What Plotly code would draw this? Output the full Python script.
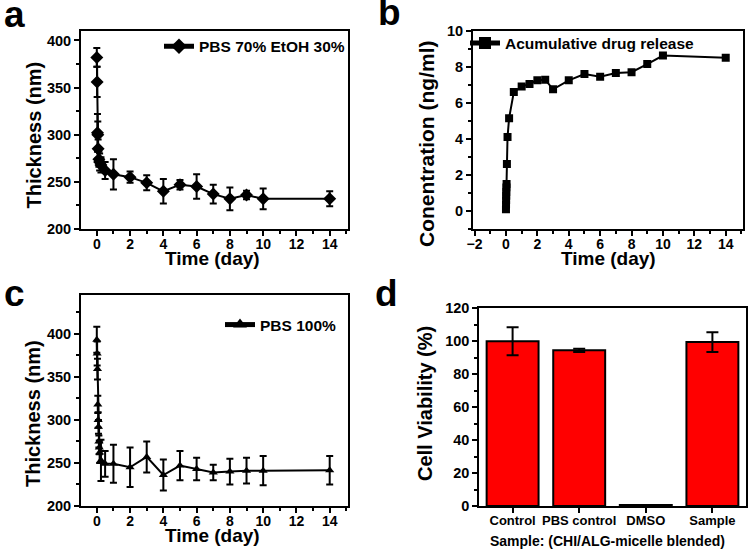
import plotly.graph_objects as go

# ---------------- data ----------------
# panel a: PBS 70% EtOH 30%
time_a = [0, 0.02, 0.04, 0.06, 0.08, 0.125, 0.17, 0.25, 0.5, 1, 2, 3, 4, 5, 6, 7, 8, 9, 10, 14]
thick_a = [382, 356, 302, 300, 285, 274, 271, 268, 262, 258, 255, 249, 240, 247, 245, 237, 232, 236, 232, 232]
err_a = [10, 16, 20, 14, 10, 8, 9, 8, 9, 16, 6, 8, 13, 5, 13, 10, 12, 4.5, 11, 8]

# panel b: Acumulative drug release
time_b = [0, 0.005, 0.01, 0.015, 0.02, 0.03, 0.04, 0.06, 0.1, 0.2, 0.5, 1, 1.5, 2, 2.5, 3, 4, 5, 6, 7, 8, 9, 10, 14]
conc_b = [0.1, 0.35, 0.6, 0.85, 1.05, 1.3, 1.5, 2.6, 4.1, 5.15, 6.6, 6.9, 7.05, 7.25, 7.28, 6.75, 7.25, 7.6, 7.45, 7.65, 7.7, 8.15, 8.62, 8.5]

# panel c: PBS 100%
time_c = [0, 0.02, 0.04, 0.06, 0.08, 0.1, 0.125, 0.15, 0.17, 0.25, 0.5, 1, 2, 3, 4, 5, 6, 7, 8, 9, 10, 14]
thick_c = [393, 377, 359, 318, 300, 292, 275, 268, 262, 253, 249, 249, 245, 257, 236, 247, 243, 239, 240, 241, 241, 241.5]
err_c = [15, 14, 12, 10, 9, 8, 7, 8, 12, 24, 15, 22, 23, 18, 18, 17, 13, 9, 15, 15, 17, 16.5]

# panel d: cell viability
samples_d = ["Control", "PBS control", "DMSO", "Sample"]
viab_d = [100, 94.5, 0.6, 99.5]
err_d = [8.5, 1, 0, 6]

# ---------------- styling helpers ----------------
BOLD = dict(family="Liberation Sans", color="black", weight="bold")


def font(size):
    d = dict(BOLD)
    d["size"] = size
    return d


def axis(domain, rng, dtick, mdtick, anchor, tsize=14.5, standoff=0):
    a = dict(domain=domain, range=rng, showline=True, linewidth=2, linecolor="black",
             mirror=True, ticks="outside", ticklen=5, tickwidth=2, tickcolor="black",
             showgrid=False, zeroline=False, tickfont=font(tsize), anchor=anchor,
             automargin=False, ticklabelstandoff=standoff)
    if dtick is not None:
        a["dtick"] = dtick
        a["tick0"] = 0
    if mdtick is not None:
        a["minor"] = dict(ticks="outside", ticklen=3, tickwidth=2, tickcolor="black",
                          dtick=mdtick, tick0=0, showgrid=False)
    return a


W, H = 750, 552


def px(x):
    return x / W


def py(y):
    return 1 - y / H


fig = go.Figure()

line = dict(color="black", width=2)


def eb(e):
    return dict(type="data", array=e, visible=True, color="black", thickness=2, width=3.5)


fig.add_trace(go.Scatter(x=time_a, y=thick_a, error_y=eb(err_a), mode="lines+markers",
                         name="PBS 70% EtOH 30%", line=line,
                         marker=dict(symbol="diamond", size=10, color="black"),
                         xaxis="x", yaxis="y", legend="legend"))
fig.add_trace(go.Scatter(x=time_b, y=conc_b, mode="lines+markers",
                         name="Acumulative drug release", line=line,
                         marker=dict(symbol="square", size=8, color="black"),
                         xaxis="x2", yaxis="y2", legend="legend2"))
fig.add_trace(go.Scatter(x=time_c, y=thick_c, error_y=eb(err_c), mode="lines+markers",
                         name="PBS 100%", line=line,
                         marker=dict(symbol="triangle-up", size=8, color="black"),
                         xaxis="x3", yaxis="y3", legend="legend3"))
fig.add_trace(go.Bar(x=samples_d, y=viab_d,
                     error_y=dict(type="data", array=err_d, visible=True, color="black",
                                  thickness=2, width=6),
                     marker=dict(color="#FF0000", line=dict(color="black", width=2)),
                     showlegend=False, xaxis="x4", yaxis="y4"))

dom_ax = [px(81), px(348)]
dom_ay = [py(229), py(31)]
dom_bx = [px(473), px(743)]
dom_by = [py(229), py(30.7)]
dom_cy = [py(506), py(295)]
dom_dx = [px(479.3), px(745.7)]
dom_dy = [py(506), py(308.3)]

xa = axis(dom_ax, [-0.95, 15.1], 2, 1, "y", tsize=14, standoff=-4)
ya = axis(dom_ay, [200, 410], 50, 25, "x")
xb = axis(dom_bx, [-2.1, 15.1], 2, 1, "y2", tsize=14, standoff=-4)
yb = axis(dom_by, [-1, 10], 2, 1, "x2")
xc = axis(dom_ax, [-0.95, 15.1], 2, 1, "y3", tsize=14, standoff=-4)
yc = axis(dom_cy, [200, 445], 50, 25, "x3")
xd = axis(dom_dx, [-0.5, 3.5], None, None, "y4", tsize=13, standoff=-4)
xd["type"] = "category"
yd = axis(dom_dy, [0, 120], 20, 10, "x4")

annotations = []


def ann(text, x, y, size, angle=0):
    annotations.append(dict(text=text, x=px(x), y=py(y), xref="paper", yref="paper",
                            showarrow=False, font=font(size), textangle=angle,
                            xanchor="center", yanchor="middle"))


# axis titles
ann("Time (day)", 212.5, 258, 19)
ann("Thickness (nm)", 33, 135.5, 20, -90)
ann("Time (day)", 608, 258, 19)
ann("Conentration (ng/ml)", 426, 144, 21, -90)
ann("Time (day)", 212.5, 535, 19)
ann("Thickness (nm)", 33, 414, 20, -90)
ann("Sample: (CHI/ALG-micelle blended)", 607.5, 541, 14)
ann("Cell Viability (%)", 425, 404, 20, -90)
# panel letters
ann("a", 14, 14, 37)
ann("b", 389, 13, 37)
ann("c", 14, 293, 37)
ann("d", 386, 293, 37)

leg = dict(font=font(15.5), bgcolor="rgba(0,0,0,0)", borderwidth=0, yanchor="middle",
           itemsizing="constant")

fig.update_layout(
    width=W, height=H, margin=dict(l=0, r=0, t=0, b=0),
    paper_bgcolor="white", plot_bgcolor="white",
    xaxis=xa, yaxis=ya, xaxis2=xb, yaxis2=yb, xaxis3=xc, yaxis3=yc, xaxis4=xd, yaxis4=yd,
    bargap=0.22,
    legend=dict(leg, x=px(350), y=py(46.7), xanchor="right"),
    legend2=dict(leg, x=px(465), y=py(43.5), xanchor="left"),
    legend3=dict(leg, x=px(342), y=py(325), xanchor="right"),
    annotations=annotations,
)

fig.write_html("out.html", config={"displayModeBar": False},
               post_script="document.body.style.margin='0px';")
